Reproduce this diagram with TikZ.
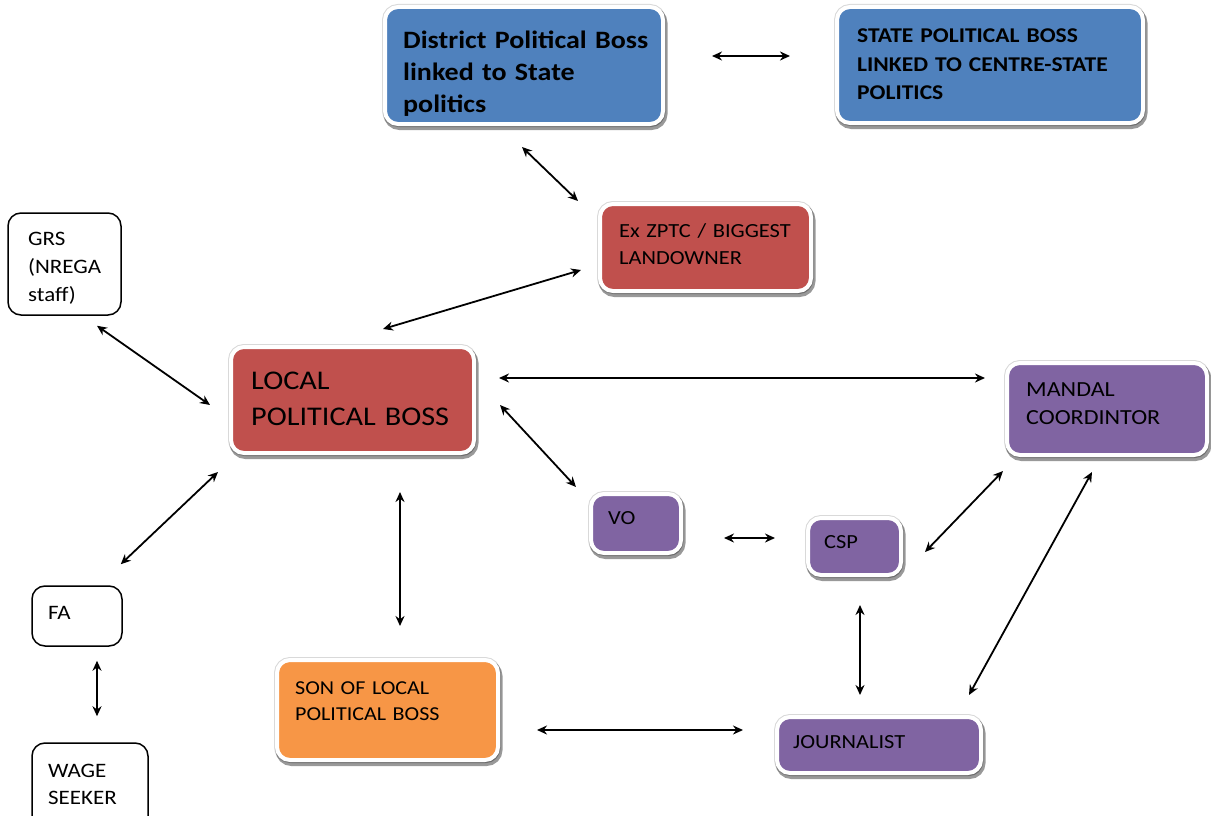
\documentclass[tikz,border=0pt]{standalone}
\usepackage{fontspec}
\setmainfont{Carlito}[FakeStretch=1.12]
\usetikzlibrary{shadows,arrows.meta}
\definecolor{cblue}{HTML}{4F81BD}
\definecolor{cred}{HTML}{C0504D}
\definecolor{cpurple}{HTML}{8064A2}
\definecolor{corange}{HTML}{F79646}
\tikzset{
  cbox/.style={rectangle, rounded corners=13pt, draw=white, line width=4pt, inner sep=0pt,
    preaction={draw=black!15, line width=6pt},
    drop shadow={shadow xshift=1.5pt, shadow yshift=-3pt, opacity=0.4, draw=black, line width=6pt}},
  wbox/.style={rectangle, rounded corners=13pt, draw=black, line width=1.5pt, fill=white, inner sep=0pt},
  txt/.style={anchor=base west, align=left, inner sep=0pt, text width=320pt},
  arr/.style={line width=1.8pt, {Stealth[length=10pt,width=9pt]}-{Stealth[length=10pt,width=9pt]}}
}
\begin{document}
\begin{tikzpicture}[x=1pt,y=-1pt]
\useasboundingbox (0,0) rectangle (1211,816);
% boxes
\node[cbox, fill=cblue, minimum width=278pt, minimum height=117pt] (dist) at (524,65.5) {};
\node[cbox, fill=cblue, minimum width=306pt, minimum height=116pt] (state) at (990,65) {};
\node[cbox, fill=cred, minimum width=211pt, minimum height=87pt] (exz) at (705.5,247.5) {};
\node[cbox, fill=cred, minimum width=243pt, minimum height=106pt] (local) at (352.5,400) {};
\node[cbox, fill=cpurple, minimum width=200pt, minimum height=92pt] (mandal) at (1107,409) {};
\node[cbox, fill=cpurple, minimum width=90pt, minimum height=59pt] (vo) at (636,523.5) {};
\node[cbox, fill=cpurple, minimum width=93pt, minimum height=57pt] (csp) at (854.5,546.5) {};
\node[cbox, fill=cpurple, minimum width=204pt, minimum height=56pt] (jour) at (879,745) {};
\node[cbox, fill=corange, minimum width=221pt, minimum height=100pt] (son) at (387.5,710) {};
\node[wbox, minimum width=113pt, minimum height=102pt] (grs) at (64.5,264) {};
\node[wbox, minimum width=90pt, minimum height=60pt] (fa) at (77,616) {};
\node[wbox, minimum width=116pt, minimum height=87pt] (wage) at (90,786.5) {};
% texts
\node[txt, font=\fontsize{25}{32}\selectfont\bfseries] (tdist) at (403,49) {District Political Boss\\linked to State\\politics};
\node[txt, font=\fontsize{21}{28.5}\selectfont\bfseries] (tstate) at (857,43) {STATE POLITICAL BOSS\\LINKED TO CENTRE-STATE\\POLITICS};
\node[txt, font=\fontsize{20}{27}\selectfont] (texz) at (619,237) {Ex ZPTC / BIGGEST\\LANDOWNER};
\node[txt, font=\fontsize{27}{36}\selectfont] (tlocal) at (251,389) {LOCAL\\POLITICAL BOSS};
\node[txt, font=\fontsize{21.5}{28}\selectfont] (tmandal) at (1026,396) {MANDAL\\COORDINTOR};
\node[txt, font=\fontsize{20}{24}\selectfont] (tvo) at (608,524) {VO};
\node[txt, font=\fontsize{20}{24}\selectfont] (tcsp) at (824,548) {CSP};
\node[txt, font=\fontsize{20}{24}\selectfont] (tjour) at (793,748) {JOURNALIST};
\node[txt, font=\fontsize{19.7}{26.5}\selectfont] (tson) at (295,694) {SON OF LOCAL\\POLITICAL BOSS};
\node[txt, font=\fontsize{20.5}{28}\selectfont] (tgrs) at (28,245) {GRS\\(NREGA\\staff)};
\node[txt, font=\fontsize{20.5}{27}\selectfont] (tfa) at (48,619) {FA};
\node[txt, font=\fontsize{20.5}{27}\selectfont] (twage) at (48,777) {WAGE\\SEEKER};
% connectors
\draw[arr] ([shift={(47,-9.5)}]dist.east) -- ([shift={(-45,-9)}]state.west);
\draw[arr] ([shift={(-2,21)}]dist.south) -- ([shift={(-20,-1)}]exz.north west);
\draw[arr] ([shift={(-17,22.5)}]exz.west) -- ([shift={(30.5,-16)}]local.north);
\draw[arr] ([shift={(32.5,10)}]grs.south) -- ([shift={(-19,5)}]local.west);
\draw[arr] ([shift={(23,-22)}]local.east) -- ([shift={(-20,-31)}]mandal.west);
\draw[arr] ([shift={(24,5)}]local.east) -- ([shift={(-13,-5)}]vo.north west);
\draw[arr] ([shift={(-11,17)}]local.south west) -- ([shift={(-2,-21)}]fa.north east);
\draw[arr] ([shift={(47.5,37)}]local.south) -- ([shift={(12.5,-32)}]son.north);
\draw[arr] ([shift={(41,14.5)}]vo.east) -- ([shift={(-31,-8.5)}]csp.west);
\draw[arr] ([shift={(22,5.5)}]csp.east) -- ([shift={(-2,14)}]mandal.south west);
\draw[arr] ([shift={(5.5,28)}]csp.south) -- ([shift={(-19,-20)}]jour.north);
\draw[arr] ([shift={(-14,-20)}]jour.north east) -- ([shift={(-15,15)}]mandal.south);
\draw[arr] ([shift={(37,20)}]son.east) -- ([shift={(-32,-15)}]jour.west);
\draw[arr] ([shift={(20,14)}]fa.south) -- ([shift={(7,-26)}]wage.north);
\end{tikzpicture}
\end{document}
